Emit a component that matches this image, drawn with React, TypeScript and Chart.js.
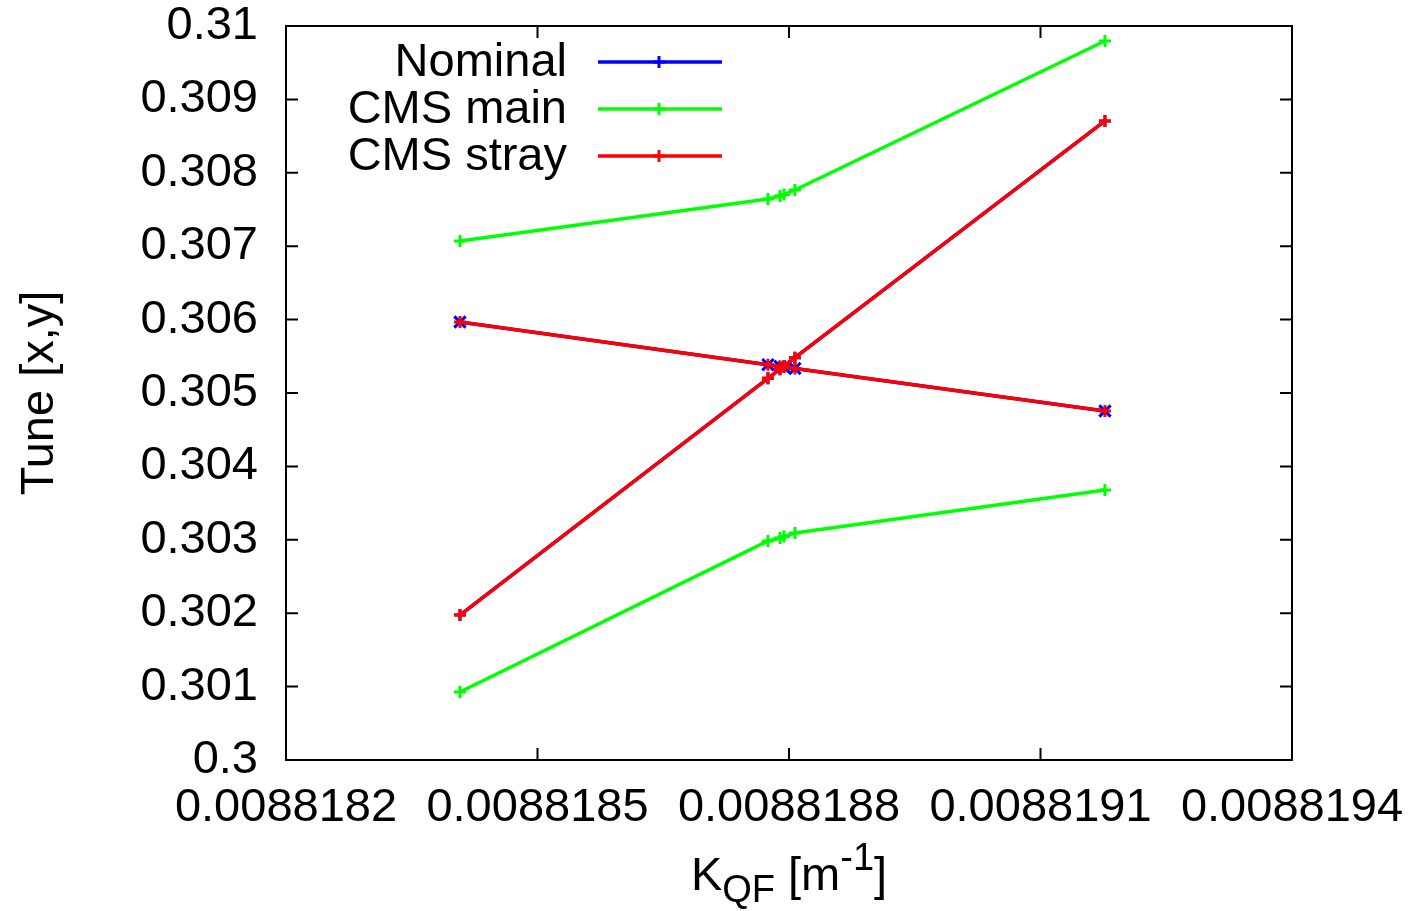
import React, { useEffect, useRef } from "react";
import { Chart, registerables } from "chart.js";

Chart.register(...registerables);

const kValues = [0.0088184075, 0.0088187749, 0.0088187893, 0.008818794, 0.0088188071, 0.0088191769];
const nominalQx = [0.301975, 0.3052, 0.305324, 0.305366, 0.305481, 0.308706];
const nominalQy = [0.305967, 0.305386, 0.305362, 0.305354, 0.305335, 0.304755];
const mainQx = [0.307071, 0.307643, 0.307684, 0.307704, 0.307766, 0.309796];
const mainQy = [0.300926, 0.302984, 0.303025, 0.303045, 0.303093, 0.303678];
const strayQx = [0.301975, 0.3052, 0.305324, 0.305366, 0.305481, 0.308706];
const strayQy = [0.305967, 0.305386, 0.305362, 0.305354, 0.305335, 0.304755];

const xTicks = [0.0088182, 0.0088185, 0.0088188, 0.0088191, 0.0088194];
const yTicks = [0.3, 0.301, 0.302, 0.303, 0.304, 0.305, 0.306, 0.307, 0.308, 0.309, 0.31];
const xTickLabels = ["0.0088182", "0.0088185", "0.0088188", "0.0088191", "0.0088194"];
const yTickLabels = ["0.3", "0.301", "0.302", "0.303", "0.304", "0.305", "0.306", "0.307", "0.308", "0.309", "0.31"];

const legendNames = ["Nominal", "CMS main", "CMS stray"];
const legendColors = ["#0000ff", "#00ff00", "#ff0000"];

const FONT = '"Liberation Sans", Arial, Helvetica, sans-serif';
const FS = 47;

const pts = (ys: number[]) => kValues.map((x, i) => ({ x, y: ys[i] }));

function drawPlus(ctx: CanvasRenderingContext2D, x: number, y: number, r: number) {
  ctx.beginPath();
  ctx.moveTo(x - r, y);
  ctx.lineTo(x + r, y);
  ctx.moveTo(x, y - r);
  ctx.lineTo(x, y + r);
  ctx.stroke();
}

const framePlugin = {
  id: "frame",
  afterDraw(chart: any) {
    const { ctx, chartArea } = chart;
    const { left, right, top, bottom } = chartArea;
    const xs = chart.scales.x;
    const ys = chart.scales.y;
    ctx.save();
    ctx.strokeStyle = "#000";
    ctx.lineWidth = 2;
    ctx.strokeRect(left, top, right - left, bottom - top);
    const tl = 12;
    ctx.beginPath();
    xTicks.forEach((v) => {
      const px = xs.getPixelForValue(v);
      ctx.moveTo(px, bottom);
      ctx.lineTo(px, bottom - tl);
      ctx.moveTo(px, top);
      ctx.lineTo(px, top + tl);
    });
    yTicks.forEach((v) => {
      const py = ys.getPixelForValue(v);
      ctx.moveTo(left, py);
      ctx.lineTo(left + tl, py);
      ctx.moveTo(right, py);
      ctx.lineTo(right - tl, py);
    });
    ctx.stroke();

    // legend
    const rows = [62, 109, 156];
    ctx.font = `${FS}px ${FONT}`;
    ctx.textAlign = "right";
    ctx.textBaseline = "middle";
    legendNames.forEach((name, i) => {
      const y = rows[i];
      ctx.fillStyle = "#000";
      ctx.fillText(name, 567, y + 1);
      ctx.strokeStyle = legendColors[i];
      ctx.lineWidth = 3.5;
      ctx.beginPath();
      ctx.moveTo(598, y);
      ctx.lineTo(722, y);
      ctx.stroke();
      ctx.lineWidth = 3;
      drawPlus(ctx, 659, y, 6);
    });

    // y axis title
    ctx.fillStyle = "#000";
    ctx.save();
    ctx.translate(40, (top + bottom) / 2);
    ctx.rotate(-Math.PI / 2);
    ctx.textAlign = "center";
    ctx.textBaseline = "middle";
    ctx.font = `${FS}px ${FONT}`;
    ctx.fillText("Tune [x,y]", 0, 0);
    ctx.restore();

    // x axis title with sub/superscripts
    const base = 890;
    const big = `${FS}px ${FONT}`;
    const small = `${Math.round(FS * 0.8)}px ${FONT}`;
    const parts = [
      { t: "K", f: big, dy: 0 },
      { t: "QF", f: small, dy: 12 },
      { t: " [m", f: big, dy: 0 },
      { t: "-1", f: small, dy: -20 },
      { t: "]", f: big, dy: 0 },
    ];
    let total = 0;
    parts.forEach((p) => {
      ctx.font = p.f;
      total += ctx.measureText(p.t).width;
    });
    let cx = (left + right) / 2 - total / 2;
    ctx.textAlign = "left";
    ctx.textBaseline = "alphabetic";
    parts.forEach((p) => {
      ctx.font = p.f;
      ctx.fillText(p.t, cx, base + p.dy);
      cx += ctx.measureText(p.t).width;
    });
    ctx.restore();
  },
};

export default function App() {
  const ref = useRef<HTMLCanvasElement | null>(null);
  useEffect(() => {
    if (!ref.current) return;
    const mk = (label: string, data: number[], color: string, style: any, order: number, r = 6) => ({
      label,
      data: pts(data),
      showLine: true,
      borderColor: color,
      backgroundColor: color,
      borderWidth: 3.5,
      pointStyle: style,
      pointRadius: r,
      pointBorderWidth: 3,
      pointBorderColor: color,
      order,
    });
    const chart = new Chart(ref.current, {
      type: "scatter",
      data: {
        datasets: [
          mk("Nominal", nominalQx, "#0000ff", "cross", 2),
          mk("Nominal y", nominalQy, "#0000ff", "crossRot", 2, 8),
          mk("CMS main", mainQx, "#00ff00", "cross", 1),
          mk("CMS main y", mainQy, "#00ff00", "cross", 1),
          mk("CMS stray", strayQx, "#ff0000", "cross", 0),
          mk("CMS stray y", strayQy, "#ff0000", "cross", 0),
        ],
      },
      options: {
        responsive: false,
        animation: false,
        layout: { padding: { left: 0, top: 26, right: 123, bottom: 0 } },
        plugins: { legend: { display: false }, tooltip: { enabled: false } },
        scales: {
          x: {
            type: "linear",
            min: xTicks[0],
            max: xTicks[xTicks.length - 1],
            grid: { display: false, drawTicks: false },
            border: { display: false },
            afterBuildTicks: (s: any) => {
              s.ticks = xTicks.map((v) => ({ value: v }));
            },
            afterFit: (s: any) => {
              s.height = 151;
              s.paddingLeft = 0;
              s.paddingRight = 0;
            },
            ticks: {
              autoSkip: false,
              maxRotation: 0,
              padding: 20,
              color: "#000",
              font: { family: FONT, size: FS },
              callback: (_v: any, i: number) => xTickLabels[i],
            },
          },
          y: {
            type: "linear",
            min: yTicks[0],
            max: yTicks[yTicks.length - 1],
            grid: { display: false, drawTicks: false },
            border: { display: false },
            afterBuildTicks: (s: any) => {
              s.ticks = yTicks.map((v) => ({ value: v }));
            },
            afterFit: (s: any) => {
              s.width = 286;
              s.paddingTop = 0;
              s.paddingBottom = 0;
            },
            ticks: {
              autoSkip: false,
              padding: 28,
              color: "#000",
              font: { family: FONT, size: FS },
              callback: (_v: any, i: number) => yTickLabels[i],
            },
          },
        },
      },
      plugins: [framePlugin],
    } as any);
    return () => chart.destroy();
  }, []);
  return (
    <div style={{ position: "fixed", left: 0, top: 0, width: 1415, height: 911, background: "#fff" }}>
      <canvas ref={ref} width={1415} height={911} style={{ display: "block" }} />
    </div>
  );
}
